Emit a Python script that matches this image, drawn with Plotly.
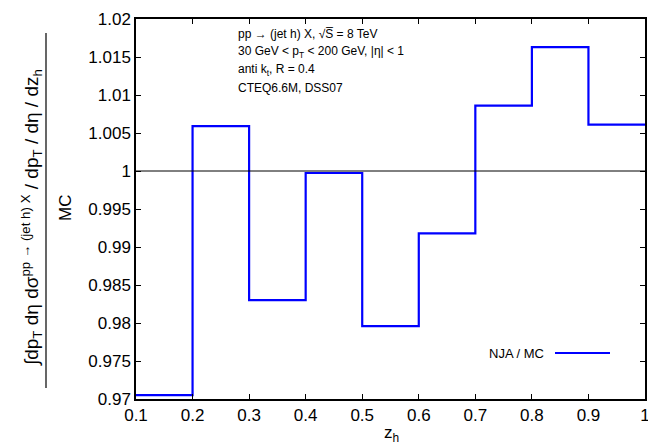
import plotly.graph_objects as go

# Data
bin_edges = [0.1, 0.2, 0.3, 0.4, 0.5, 0.6, 0.7, 0.8, 0.9, 1.0]
ratio_values = [0.9705, 1.0059, 0.9830, 0.99974, 0.9796, 0.9918, 1.0086, 1.0163, 1.0061]
x_tickvals = [0.1, 0.2, 0.3, 0.4, 0.5, 0.6, 0.7, 0.8, 0.9, 1.0]
x_ticktext = ["0.1", "0.2", "0.3", "0.4", "0.5", "0.6", "0.7", "0.8", "0.9", "1"]
y_tickvals = [0.97, 0.975, 0.98, 0.985, 0.99, 0.995, 1.0, 1.005, 1.01, 1.015, 1.02]
y_ticktext = ["0.97", "0.975", "0.98", "0.985", "0.99", "0.995", "1", "1.005", "1.01", "1.015", "1.02"]
info_lines = [
    "pp → (jet h) X, √S̅ = 8 TeV",
    "30 GeV &lt; p<sub>T</sub> &lt; 200 GeV, |η| &lt; 1",
    "anti k<sub>t</sub>, R = 0.4",
    "CTEQ6.6M, DSS07",
]
series_name = "NJA / MC"

W, H = 648, 447
L, R, T, B = 136, 3, 19, 48
pw, ph = W - L - R, H - T - B

def px_x(x):
    return (x - L) / pw

def px_y(y):
    return (H - B - y) / ph

font = "Liberation Sans, Arial, sans-serif"

fig = go.Figure()
fig.add_trace(go.Scatter(
    x=bin_edges,
    y=ratio_values + [ratio_values[-1]],
    mode="lines",
    line=dict(shape="hv", color="#0000ff", width=2.2),
    name=series_name,
    showlegend=False,
))

axis_common = dict(
    showgrid=False, zeroline=False, showline=True, linecolor="black", linewidth=1.5,
    mirror="ticks", ticks="inside", ticklen=5, tickwidth=1, tickcolor="black",
    tickfont=dict(family=font, size=17, color="black"),
    ticklabeloverflow="allow", automargin=False,
)
fig.update_xaxes(range=[0.1, 1.0], tickvals=x_tickvals, ticktext=x_ticktext, **axis_common)
fig.update_yaxes(range=[0.97, 1.02], tickvals=y_tickvals, ticktext=y_ticktext, **axis_common)

shapes = [
    dict(type="line", xref="paper", yref="y", x0=0, x1=1, y0=1.0, y1=1.0,
         line=dict(color="black", width=1)),
    dict(type="line", xref="paper", yref="paper", x0=px_x(46), x1=px_x(46),
         y0=px_y(388), y1=px_y(33), line=dict(color="black", width=1.2)),
    dict(type="line", xref="paper", yref="paper", x0=px_x(555), x1=px_x(610),
         y0=px_y(353), y1=px_y(353), line=dict(color="#0000ff", width=2.2)),
]

annotations = [
    dict(text="∫dp<sub>T</sub> dη dσ<sup>pp → (jet h) X</sup> / dp<sub>T</sub> / dη / dz<sub>h</sub>",
         xref="paper", yref="paper", x=px_x(31), y=px_y(218), textangle=-90,
         showarrow=False, xanchor="center", yanchor="middle",
         font=dict(family=font, size=19, color="black")),
    dict(text="MC", xref="paper", yref="paper", x=px_x(65), y=px_y(208), textangle=-90,
         showarrow=False, xanchor="center", yanchor="middle",
         font=dict(family=font, size=17, color="black")),
    dict(text="z<sub>h</sub>", xref="paper", yref="paper", x=px_x(391), y=px_y(434),
         showarrow=False, xanchor="center", yanchor="middle",
         font=dict(family=font, size=17, color="black")),
    dict(text=series_name, xref="paper", yref="paper", x=px_x(546), y=px_y(353),
         showarrow=False, xanchor="right", yanchor="middle",
         font=dict(family=font, size=13, color="black")),
]
for i, line in enumerate(info_lines):
    annotations.append(dict(text=line, xref="paper", yref="paper", x=px_x(236),
                            y=px_y(34 + 18 * i), showarrow=False, xanchor="left",
                            yanchor="middle", font=dict(family=font, size=12, color="black")))

fig.update_layout(
    width=W, height=H,
    margin=dict(l=L, r=R, t=T, b=B, pad=0, autoexpand=False),
    paper_bgcolor="white", plot_bgcolor="white",
    shapes=shapes, annotations=annotations,
)

fig.write_html(
    "out.html",
    config={"displayModeBar": False},
    post_script="document.body.style.margin='0';document.body.style.padding='0';document.documentElement.style.overflow='hidden';",
)
